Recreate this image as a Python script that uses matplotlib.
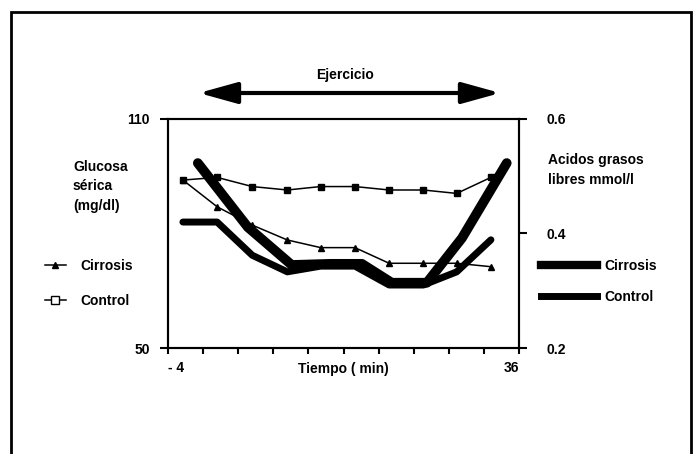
import matplotlib.pyplot as plt
from matplotlib.lines import Line2D
from matplotlib.patches import Rectangle, FancyArrowPatch

plt.rcParams['font.family'] = ['Liberation Sans', 'DejaVu Sans']
plt.rcParams['font.weight'] = 'bold'

# glucose (mg/dl)
tiempo = [-2.3, 1.6, 5.6, 9.6, 13.4, 17.3, 21.2, 25.1, 28.9, 32.8]
gluc_control = [94.0, 94.7, 92.3, 91.4, 92.3, 92.3, 91.4, 91.4, 90.5, 94.7]
gluc_cirrosis = [94.0, 87.0, 82.2, 78.3, 76.3, 76.3, 72.2, 72.2, 72.2, 71.3]

# free fatty acids (mmol/l)
tiempo_agl_cir = [-0.6, 5.1, 10.1, 14.5, 18.1, 21.5, 25.5, 29.5, 34.6]
agl_cirrosis = [0.523, 0.411, 0.345, 0.347, 0.347, 0.314, 0.314, 0.392, 0.523]
tiempo_agl_con = tiempo
agl_control = [0.420, 0.420, 0.362, 0.333, 0.343, 0.343, 0.310, 0.310, 0.333, 0.389]

xticks = [-4, 0, 4, 8, 12, 16, 20, 24, 28, 32, 36]
xlabels = ['- 4', '', '', '', '', '', '', '', '', '', '36']

fig = plt.figure(figsize=(6.96, 4.54), dpi=100)
ax = fig.add_axes([168/696, 106/454, 351/696, 229/454])
ax2 = ax.twinx()

ax.plot(tiempo, gluc_control, color='black', lw=1.1, marker='s', ms=4.5)
ax.plot(tiempo, gluc_cirrosis, color='black', lw=1.1, marker='^', ms=4.5)
ax2.plot(tiempo_agl_cir, agl_cirrosis, color='black', lw=7, solid_capstyle='round')
ax2.plot(tiempo_agl_con, agl_control, color='black', lw=5, solid_capstyle='round')

ax.set_xlim(-4, 36)
ax.set_ylim(50, 110)
ax2.set_ylim(0.2, 0.6)

ax.set_xticks(xticks)
ax.set_xticklabels(xlabels, fontsize=10, fontweight='bold')
labs = ax.get_xticklabels()
labs[0].set_ha('left')
labs[-1].set_ha('right')
ax.tick_params(axis='x', direction='out', length=4, width=1.5, pad=5)

ax.set_yticks([50, 110])
ax.set_yticklabels(['50', '110'], fontsize=10, fontweight='bold')
ax.tick_params(axis='y', direction='out', length=5.5, width=1.5, pad=7.5)

ax2.set_yticks([0.2, 0.4, 0.6])
ax2.set_yticklabels(['0.2', '0.4', '0.6'], fontsize=10, fontweight='bold')
ax2.tick_params(axis='y', direction='out', length=5.5, width=1.5, pad=14.5)

for a in (ax, ax2):
    for s in a.spines.values():
        s.set_linewidth(1.5)

ax.set_xlabel('Tiempo ( min)', fontsize=10, fontweight='bold', labelpad=-9)

fig.text(73/696, 1 - 186/454, 'Glucosa\nsérica\n(mg/dl)', fontsize=10, fontweight='bold',
         va='center', ha='left', linespacing=1.5)
fig.text(548/696, 1 - 170/454, 'Acidos grasos\nlibres mmol/l', fontsize=10, fontweight='bold',
         va='center', ha='left', linespacing=1.5)

fig.text(345/696, 1 - 75/454, 'Ejercicio', fontsize=10, fontweight='bold', ha='center', va='center')
arrow = FancyArrowPatch((196/696, 1 - 93/454), (503/696, 1 - 93/454), transform=fig.transFigure,
                        arrowstyle='<|-|>,head_length=1.3,head_width=0.36', mutation_scale=18,
                        color='black', lw=3)
fig.add_artist(arrow)

# left legend (glucose)
h_cir = Line2D([], [], color='black', lw=1.1, marker='^', ms=5)
h_con = Line2D([], [], color='black', lw=1.1, marker='s', ms=6, mfc='white')
fig.legend([h_cir, h_con], ['Cirrosis', 'Control'], loc='upper left',
           bbox_to_anchor=(38/696, 1 - 252/454), frameon=False,
           handlelength=1.5, handletextpad=1.05, labelspacing=1.5, borderpad=0,
           prop={'weight': 'bold', 'size': 10})

# right legend (fatty acids)
h_cir2 = Line2D([], [], color='black', lw=6)
h_con2 = Line2D([], [], color='black', lw=5)
fig.legend([h_cir2, h_con2], ['Cirrosis', 'Control'], loc='upper left',
           bbox_to_anchor=(534/696, 1 - 252/454), frameon=False,
           handlelength=4.0, handletextpad=0.6, labelspacing=1.2, borderpad=0,
           prop={'weight': 'bold', 'size': 10})

fig.add_artist(Rectangle((11/696, -0.2), (691 - 11)/696, 1.2 - 12/454,
                         transform=fig.transFigure, fill=False, lw=2, color='black'))

fig.savefig('out.png', dpi=100)
